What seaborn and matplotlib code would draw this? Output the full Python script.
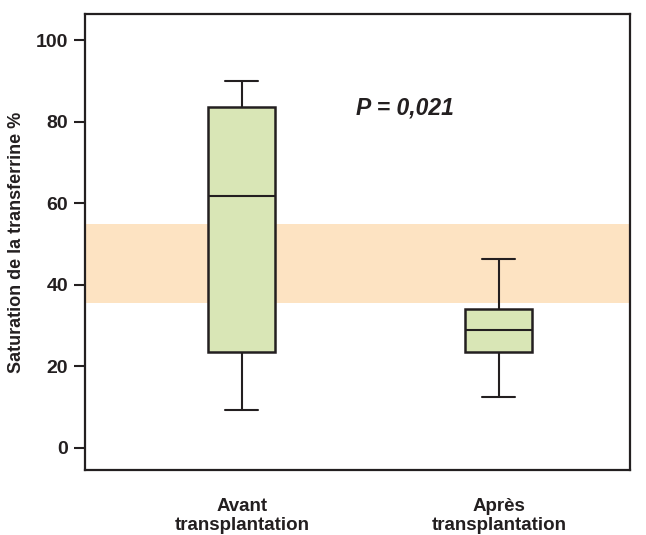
import numpy as np
import pandas as pd
import matplotlib
matplotlib.use("Agg")
import matplotlib.pyplot as plt
import seaborn as sns

# five-number summaries: min, Q1, median, Q3, max
groups = ["Avant\ntransplantation", "Après\ntransplantation"]
avant = [9.3, 23.5, 61.8, 83.6, 90.0]
apres = [12.5, 23.5, 28.9, 34.0, 46.3]
band_low, band_high = 35.5, 55.0
p_text = "P = 0,021"
yticks = [0, 20, 40, 60, 80, 100]

sns.set_style("white")
plt.rcParams["font.family"] = ["Liberation Sans", "DejaVu Sans"]
dark = "#231f20"

df = pd.DataFrame({
    "groupe": [groups[0]] * len(avant) + [groups[1]] * len(apres),
    "saturation": avant + apres,
})

fig = plt.figure(figsize=(6.46, 5.35), dpi=100)
ax = fig.add_axes([0.1316, 0.1215, 0.8434, 0.8523])

ax.axhspan(band_low, band_high, color="#fde3c2", lw=0, zorder=0)

line_kw = dict(color=dark, linewidth=1.5)
sns.boxplot(data=df, x="groupe", y="saturation", order=groups, ax=ax,
            whis=(0, 100), width=0.26, color="#d9e6b6", saturation=1,
            linecolor=dark, linewidth=1.5, showfliers=False,
            boxprops=dict(edgecolor=dark, linewidth=1.8),
            medianprops=line_kw, whiskerprops=line_kw, capprops=line_kw)

ax.text(0.634, 83.3, p_text, fontsize=16.5, fontweight="bold", style="italic",
        color=dark, ha="center", va="center")

ax.set_xlim(-0.61, 1.51)
ax.set_ylim(-5.4, 106.4)
ax.set_yticks(yticks)
ax.set_xlabel("")
ax.set_ylabel("Saturation de la transferrine %", fontsize=13,
              fontweight="bold", color=dark, labelpad=8)
for s in ax.spines.values():
    s.set_visible(True)
    s.set_color(dark)
    s.set_linewidth(1.6)
ax.tick_params(axis="y", length=8, width=1.5, color=dark, pad=4,
               labelsize=14, labelcolor=dark, left=True)
ax.tick_params(axis="x", length=0, pad=20, labelsize=13.5, labelcolor=dark)
for lab in ax.get_xticklabels() + ax.get_yticklabels():
    lab.set_fontweight("bold")
    lab.set_linespacing(1.2)

fig.savefig("out.png", dpi=100)
